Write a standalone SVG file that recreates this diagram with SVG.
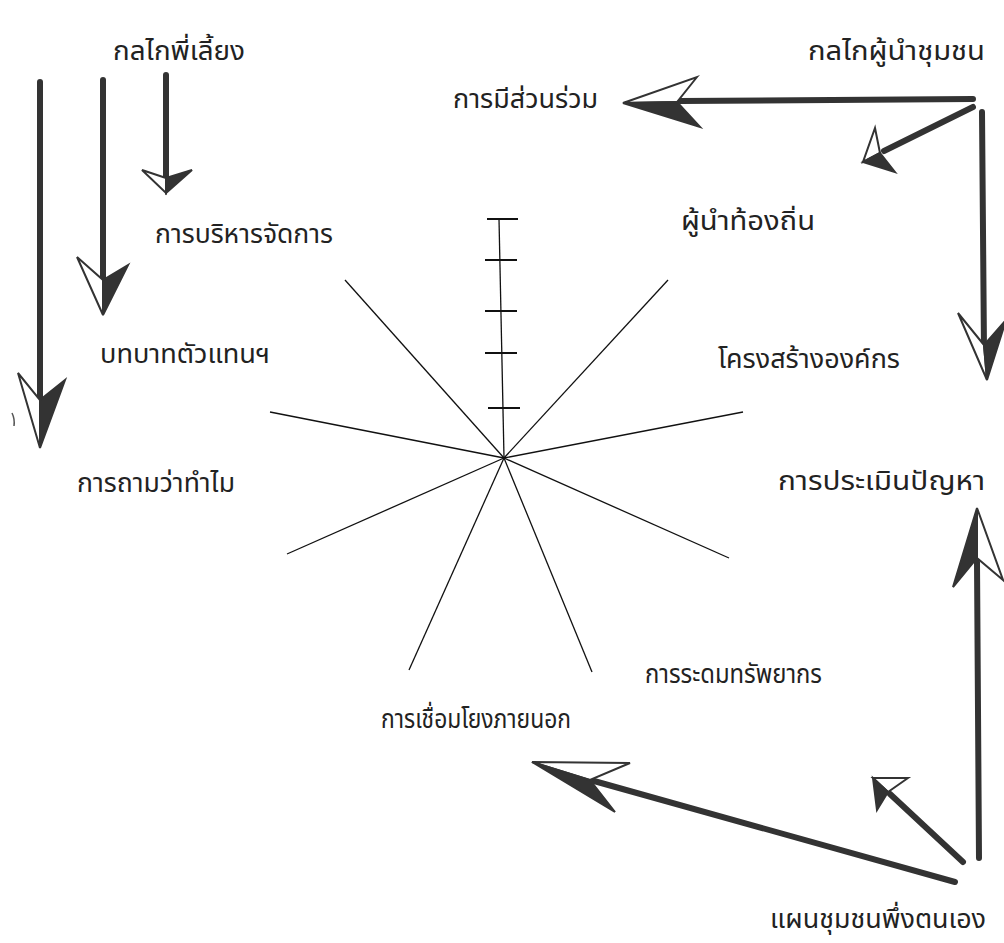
<svg xmlns="http://www.w3.org/2000/svg" width="1004" height="943" viewBox="0 0 1004 943">
<style>
.t{font-family:"Noto Sans Thai","Loma","Garuda","Tlwg Typo","DejaVu Sans","Noto Sans",sans-serif;font-size:26px;fill:#222}
.sh{stroke:#333;stroke-width:6;stroke-linecap:round;fill:none}
.hw{fill:#fff;stroke:#333;stroke-width:2;stroke-linejoin:miter}
.hd{fill:#333;stroke:#333;stroke-width:2;stroke-linejoin:miter}
.st{stroke:#111;stroke-width:1.3;fill:none}
.tk{stroke:#111;stroke-width:2;fill:none}
</style>
<rect width="1004" height="943" fill="#fff"/>
<g id="star">
<line class="st" x1="499" y1="219" x2="504" y2="458"/>
<line class="tk" x1="487" y1="219" x2="518" y2="219"/>
<line class="tk" x1="485" y1="260" x2="517" y2="260"/>
<line class="tk" x1="485" y1="311" x2="517" y2="311"/>
<line class="tk" x1="485" y1="353" x2="517" y2="353"/>
<line class="tk" x1="488" y1="408" x2="520" y2="408"/>
<line class="st" x1="345" y1="280" x2="504" y2="458"/>
<line class="st" x1="668" y1="280" x2="504" y2="458"/>
<line class="st" x1="270" y1="412" x2="504" y2="458"/>
<line class="st" x1="743" y1="412" x2="504" y2="458"/>
<line class="st" x1="287" y1="554" x2="504" y2="458"/>
<line class="st" x1="729" y1="558" x2="504" y2="458"/>
<line class="st" x1="409" y1="670" x2="504" y2="458"/>
<line class="st" x1="592" y1="672" x2="504" y2="458"/>
</g>
<g id="connectors">
<line class="sh" x1="166" y1="75" x2="166" y2="178"/>
<polygon class="hw" points="142,170 166,178 166,193"/>
<polygon class="hd" points="192,170 166,178 166,193"/>
<line class="sh" x1="103" y1="80" x2="103" y2="285"/>
<polygon class="hw" points="77,257 103,280 103,315"/>
<polygon class="hd" points="128,265 103,280 103,315"/>
<line class="sh" x1="40" y1="82" x2="40" y2="405"/>
<polygon class="hw" points="18,373 40,400 40,448"/>
<polygon class="hd" points="65,380 40,400 40,448"/>
<path d="M12,413 Q15,419 14,426" stroke="#555" stroke-width="1.5" fill="none"/>
<line class="sh" x1="973" y1="99" x2="680" y2="101"/>
<polygon class="hw" points="697,77 677,102 623,103"/>
<polygon class="hd" points="700,127 677,102 623,103"/>
<line class="sh" x1="973" y1="107" x2="884" y2="151"/>
<polygon class="hw" points="875,128 880,153 863,162"/>
<polygon class="hd" points="895,172 880,153 863,162"/>
<line class="sh" x1="982" y1="112" x2="984" y2="350"/>
<polygon class="hw" points="958,313 984,345 987,380"/>
<polygon class="hd" points="1006,320 984,345 987,380"/>
<line class="sh" x1="979" y1="858" x2="977" y2="562"/>
<polygon class="hd" points="953,587 977,558 977,508"/>
<polygon class="hw" points="1003,580 977,558 977,508"/>
<line class="sh" x1="955" y1="882" x2="594" y2="781"/>
<polygon class="hw" points="630,763 590,780 532,762"/>
<polygon class="hd" points="615,812 590,780 532,762"/>
<line class="sh" x1="963" y1="862" x2="890" y2="794"/>
<polygon class="hw" points="908,778 888,792 873,778"/>
<polygon class="hd" points="877,810 888,792 873,778"/>
</g>
<g id="n-phileang"><text class="t" x="113" y="60" textLength="132" lengthAdjust="spacingAndGlyphs">กลไกพี่เลี้ยง</text></g>
<g id="n-borihan"><text class="t" x="155" y="243" textLength="178" lengthAdjust="spacingAndGlyphs">การบริหารจัดการ</text></g>
<g id="n-bottbat"><text class="t" x="100" y="363" textLength="170" lengthAdjust="spacingAndGlyphs">บทบาทตัวแทนฯ</text></g>
<g id="n-tham"><text class="t" x="77" y="492" textLength="158" lengthAdjust="spacingAndGlyphs">การถามว่าทำไม</text></g>
<g id="n-phunam"><text class="t" x="808" y="60" textLength="177" lengthAdjust="spacingAndGlyphs">กลไกผู้นำชุมชน</text></g>
<g id="n-misuan"><text class="t" x="453" y="108" textLength="145" lengthAdjust="spacingAndGlyphs">การมีส่วนร่วม</text></g>
<g id="n-thongthin"><text class="t" x="681" y="230" textLength="134" lengthAdjust="spacingAndGlyphs">ผู้นำท้องถิ่น</text></g>
<g id="n-khrongsang"><text class="t" x="718" y="368" textLength="182" lengthAdjust="spacingAndGlyphs">โครงสร้างองค์กร</text></g>
<g id="n-pramoen"><text class="t" x="778" y="490" textLength="207" lengthAdjust="spacingAndGlyphs">การประเมินปัญหา</text></g>
<g id="n-radom"><text class="t" x="645" y="683" textLength="177" lengthAdjust="spacingAndGlyphs">การระดมทรัพยากร</text></g>
<g id="n-chueam"><text class="t" x="381" y="728" textLength="190" lengthAdjust="spacingAndGlyphs">การเชื่อมโยงภายนอก</text></g>
<g id="n-phaen"><text class="t" x="770" y="928" textLength="216" lengthAdjust="spacingAndGlyphs">แผนชุมชนพึ่งตนเอง</text></g>
</svg>
